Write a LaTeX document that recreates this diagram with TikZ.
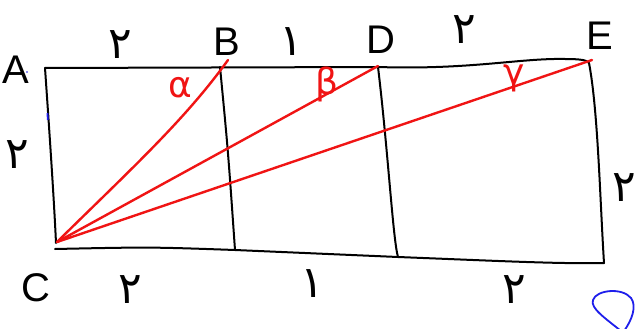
\documentclass[tikz,border=0pt]{standalone}
\usepackage{fontspec}
\setmainfont{Liberation Sans}
\newfontfamily\fadig[Script=Arabic]{DejaVu Sans}
\newfontfamily\grk{DejaVu Sans}
\TeXXeTstate=1
\definecolor{penred}{RGB}{240,20,20}
\definecolor{penblue}{RGB}{30,30,235}
\begin{document}
\begin{tikzpicture}[x=1pt,y=-1pt,
  edge/.style={line width=2pt,line cap=round,line join=round,black},
  ray/.style={line width=2.4pt,line cap=round,penred},
  letter/.style={inner sep=0pt,font=\fontsize{40}{40}\selectfont},
  digit/.style={inner sep=0pt,font=\fadig\fontsize{44}{44}\selectfont},
  angle/.style={inner sep=0pt,text=penred,font=\grk\fontsize{36}{36}\selectfont}]
\useasboundingbox (0,0) rectangle (637,329);
\fill[white] (0,0) rectangle (637,329);
% corners
\coordinate (TL) at (45,68);
\coordinate (BT) at (220,67);
\coordinate (DT) at (378,67);
\coordinate (ET) at (589,63);
\coordinate (BL) at (55,249);
\coordinate (BB) at (235,250);
\coordinate (DB) at (398,257);
\coordinate (EB) at (604,263);
\coordinate (C0) at (57,242);
\coordinate (Bend) at (228,60);
\coordinate (Dend) at (378,66);
\coordinate (Eend) at (592,60);
% rectangle
\draw[edge] (TL) -- (DT) .. controls (470,70) and (520,58) .. (565,59)
  .. controls (580,59) and (587,60) .. (ET);
\draw[edge] (ET) .. controls (598,110) and (600,200) .. (EB);
\draw[edge] (TL) .. controls (50,140) and (54,200) .. (56,243);
\draw[edge] (BL) .. controls (150,247) .. (BB) -- (DB) .. controls (500,261) and (560,264) .. (EB);
\draw[edge] (BT) .. controls (228,150) .. (BB);
\draw[edge] (DT) .. controls (388,150) and (393,240) .. (DB);
% red rays
\draw[ray] (C0) .. controls (130,170) and (185,120) .. (Bend);
\draw[ray] (C0) -- (Dend);
\draw[ray] (C0) -- (Eend);
% labels
\node[letter] (A) at (16,70) {A};
\node[letter] (B) at (227,42) {B};
\node[letter] (D) at (381,40) {D};
\node[letter] (E) at (600,36) {E};
\node[letter] (C) at (36,288) {C};
\node[digit] (t1) at (120,45) {\beginR ۲\endR};
\node[digit] (t2) at (291,42) {\beginR ۱\endR};
\node[digit] (t3) at (464,30) {\beginR ۲\endR};
\node[digit] (l1) at (17,155) {\beginR ۲\endR};
\node[digit] (r1) at (624,188) {\beginR ۲\endR};
\node[digit] (b1) at (130,290) {\beginR ۲\endR};
\node[digit] (b2) at (312,284) {\beginR ۱\endR};
\node[digit] (b3) at (514,290) {\beginR ۲\endR};
\node[angle] (al) at (180,88) {α};
\node[angle] (be) at (327,84) {β};
\node[angle] (ga) at (514,78) {γ};
% blue marks
\fill[penblue] (27,72) circle (0.9);
\draw[penblue,line width=1.8pt] (47.5,113) -- (47.8,120);
\draw[penblue,line width=1.8pt,line cap=round] (621,331) .. controls (605,318) and (590,308) .. (593,300)
  .. controls (596,290) and (622,287) .. (631,298) .. controls (637,306) and (632,320) .. (624,331);
\end{tikzpicture}
\end{document}
